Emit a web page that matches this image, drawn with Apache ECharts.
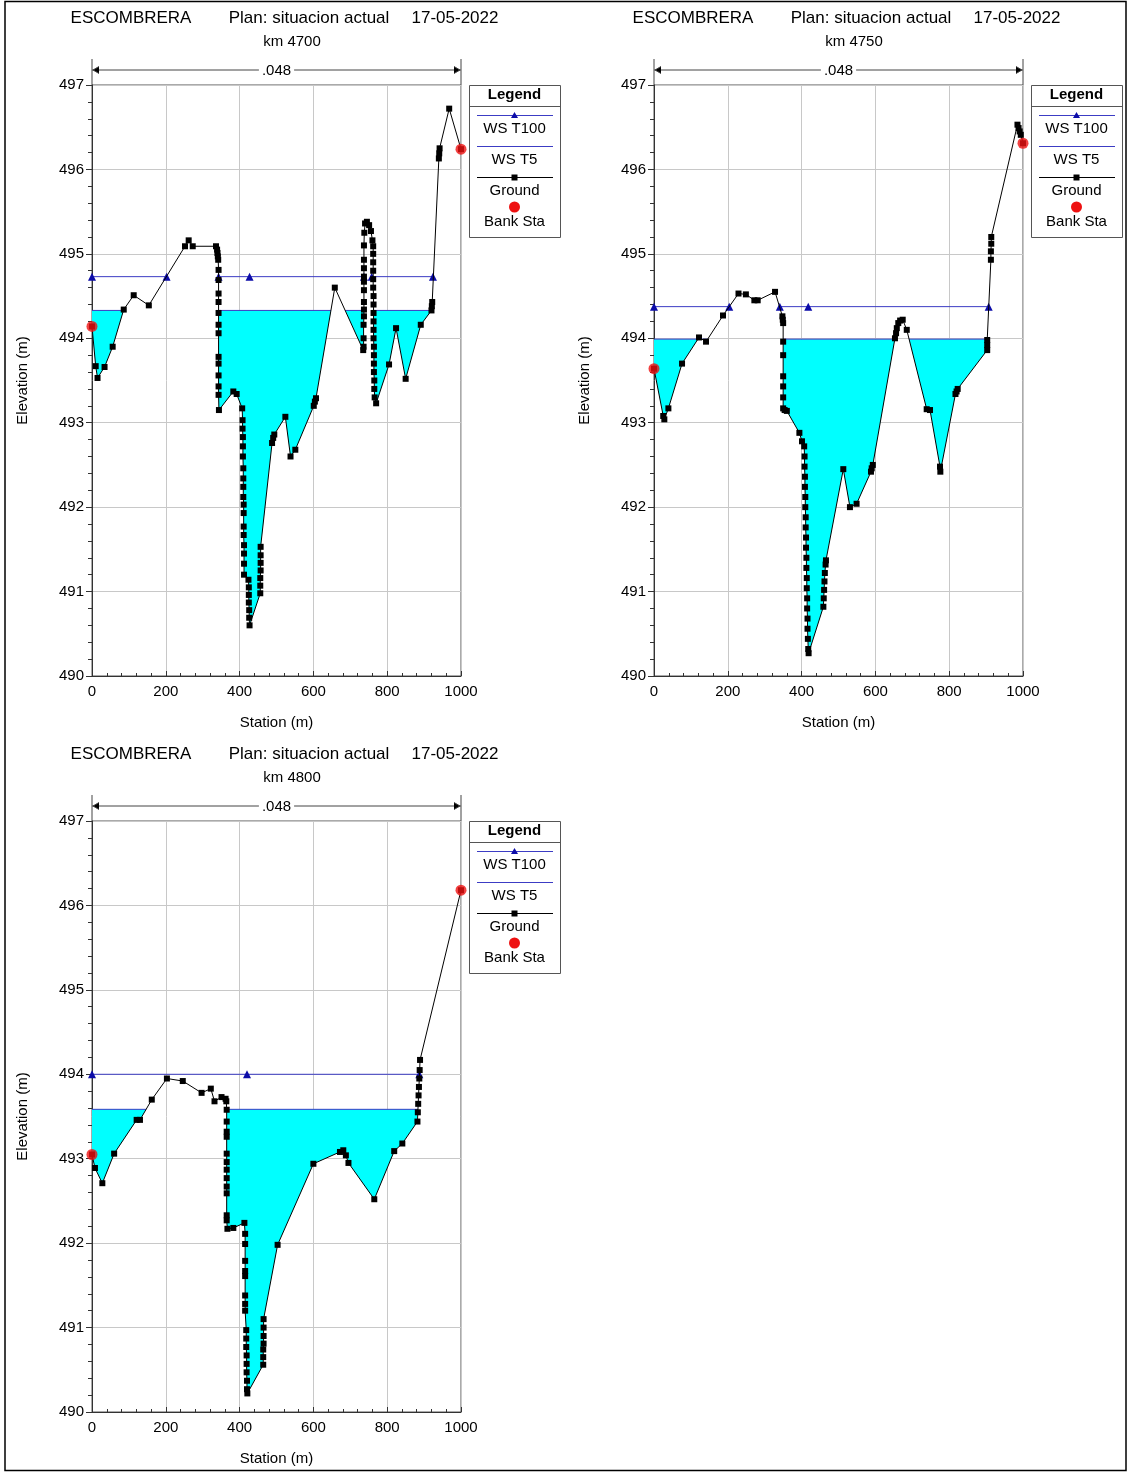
<!DOCTYPE html>
<html>
<head>
<meta charset="utf-8">
<title>ESCOMBRERA - cross sections</title>
<script src="https://cdn.jsdelivr.net/npm/echarts@6.0.0/dist/echarts.min.js"></script>
<style>
  html, body { margin: 0; padding: 0; background: #fff; }
  #chart { width: 1129px; height: 1473px; }
</style>
</head>
<body>
<div id="chart"></div>
<script>
// ---------------- Cross-section data ----------------
// Ground surveys: [station (m), elevation (m)]
const ground4700 = [
  [0, 494.14], [10, 493.67], [15, 493.53], [34, 493.66], [56, 493.90], [86, 494.34], [113, 494.51], [154, 494.39],
  [252, 495.09], [262, 495.16], [273, 495.09], [336, 495.09], [339, 495.05], [340, 495.01], [341, 494.97], [342, 494.93],
  [343, 494.81], [343, 494.69], [343, 494.53], [343, 494.43], [343, 494.30], [343, 494.16], [343, 494.06], [343, 493.78],
  [343, 493.70], [343, 493.56], [343, 493.43], [343, 493.33], [344, 493.15],
  [383, 493.37], [392, 493.34],
  [407, 493.17], [408, 493.03], [408, 492.93], [409, 492.83], [409, 492.72], [409, 492.60], [410, 492.46], [410, 492.34],
  [410, 492.24], [410, 492.12], [411, 492.03], [411, 491.93], [411, 491.77], [411, 491.67], [412, 491.55], [412, 491.45],
  [412, 491.33], [412, 491.20],
  [424, 491.14], [425, 491.05], [425, 490.96], [425, 490.87], [426, 490.78], [426, 490.69], [427, 490.60],
  [456, 490.98], [456, 491.07], [456, 491.16], [457, 491.25], [457, 491.34], [457, 491.43], [457, 491.53],
  [488, 492.76], [491, 492.82], [494, 492.86],
  [524, 493.07], [538, 492.60], [551, 492.68],
  [601, 493.20], [604, 493.25], [607, 493.29],
  [658, 494.60],
  [735, 493.86], [736, 493.90], [736, 494.00], [736, 494.16], [737, 494.26], [737, 494.34], [737, 494.43], [737, 494.57],
  [737, 494.67], [737, 494.73], [737, 494.83], [737, 494.93], [737, 495.10], [738, 495.25], [740, 495.36], [745, 495.38],
  [751, 495.34], [756, 495.27], [760, 495.16],
  [762, 495.09], [762, 495.00], [762, 494.90], [762, 494.80], [762, 494.70], [762, 494.60], [763, 494.50], [763, 494.40],
  [763, 494.30], [763, 494.20], [763, 494.10], [763, 494.00], [764, 493.90], [764, 493.80], [764, 493.70], [764, 493.60],
  [765, 493.50], [765, 493.40], [766, 493.30], [770, 493.23],
  [805, 493.69], [824, 494.12], [850, 493.52], [891, 494.16], [920, 494.33], [921, 494.38], [922, 494.43],
  [940, 496.13], [941, 496.19], [942, 496.25], [968, 496.72], [1000, 496.24]
];

const ground4750 = [
  [0, 493.64], [25, 493.08], [28, 493.04], [39, 493.17], [76, 493.70], [122, 494.01], [141, 493.96], [187, 494.27],
  [229, 494.53], [249, 494.52], [272, 494.45], [281, 494.45], [328, 494.55],
  [348, 494.26], [349, 494.22], [350, 494.18], [350, 493.96], [350, 493.80], [350, 493.55], [350, 493.43], [350, 493.30],
  [350, 493.17], [354, 493.15], [360, 493.14],
  [394, 492.88], [401, 492.78],
  [407, 492.72], [408, 492.60], [408, 492.48], [409, 492.36], [409, 492.24], [410, 492.12], [410, 492.00], [411, 491.88],
  [411, 491.76], [412, 491.64], [412, 491.52], [413, 491.40], [413, 491.28], [414, 491.16], [414, 491.04], [415, 490.92],
  [415, 490.80], [416, 490.68], [416, 490.56], [417, 490.44], [418, 490.32], [419, 490.27],
  [459, 490.82], [460, 490.92], [461, 491.02], [462, 491.12], [463, 491.22], [465, 491.32], [466, 491.37],
  [513, 492.45], [531, 492.00], [549, 492.04],
  [588, 492.42], [590, 492.46], [593, 492.50],
  [653, 494.00], [656, 494.06], [658, 494.12], [662, 494.18], [667, 494.21], [674, 494.22], [685, 494.10],
  [739, 493.16], [748, 493.15],
  [775, 492.48], [776, 492.42],
  [817, 493.34], [820, 493.37], [823, 493.40],
  [903, 493.86], [903, 493.92], [903, 493.98],
  [913, 494.93], [913, 495.03], [914, 495.12], [914, 495.20],
  [985, 496.53], [988, 496.49], [991, 496.45], [994, 496.41], [1000, 496.31]
];

const ground4800 = [
  [0, 493.05], [8, 492.89], [28, 492.71], [60, 493.06], [121, 493.46], [130, 493.46], [162, 493.70], [203, 493.95],
  [246, 493.92], [297, 493.78], [322, 493.83], [332, 493.68], [351, 493.73], [362, 493.71], [364, 493.68],
  [365, 493.58], [365, 493.44], [365, 493.32], [365, 493.26], [365, 493.06], [365, 492.96], [365, 492.87], [365, 492.77],
  [365, 492.67], [365, 492.59], [365, 492.33], [365, 492.27],
  [367, 492.17], [383, 492.18], [413, 492.24],
  [415, 492.11], [415, 491.99], [415, 491.79], [415, 491.67], [415, 491.61], [415, 491.38], [415, 491.28], [415, 491.20],
  [418, 490.97], [418, 490.87], [418, 490.77], [419, 490.67], [419, 490.57], [419, 490.47], [420, 490.37], [420, 490.27],
  [421, 490.22],
  [464, 490.56], [464, 490.65], [464, 490.74], [465, 490.81], [465, 490.90], [465, 491.00], [465, 491.10],
  [503, 491.98], [600, 492.94],
  [672, 493.08], [681, 493.10], [688, 493.04], [695, 492.95],
  [765, 492.52], [819, 493.09], [841, 493.18],
  [882, 493.44], [883, 493.55], [884, 493.65], [885, 493.75], [886, 493.85], [887, 493.95], [888, 494.05], [889, 494.17],
  [1000, 496.18]
];

// Bank stations
const bank4700 = [[0, 494.14], [1000, 496.24]];
const bank4750 = [[0, 493.64], [1000, 496.31]];
const bank4800 = [[0, 493.05], [1000, 496.18]];

// Water surface elevations (m) per section: 100-year and 5-year events
const sectionNames = ['km 4700', 'km 4750', 'km 4800'];
const wsT100 = [494.73, 494.375, 494.00];
const wsT5 = [494.33, 493.99, 493.585];

// Stations of the WS T100 marks, grouped by continuous wetted reach
const t100Marks4700 = [[0, 202], [343, 427, 737], [758, 924]];
const t100Marks4750 = [[0, 204], [341, 418, 907]];
const t100Marks4800 = [[0, 420, 887]];

// Manning's n reach across the section
const nStations = [0, 1000];
const nValue = '.048';

// Axis ticks
const stationTicks = [0, 200, 400, 600, 800, 1000];
const elevationTicks = [490, 491, 492, 493, 494, 495, 496, 497];

const planTitle = ['ESCOMBRERA', 'Plan: situacion actual', '17-05-2022'];

// ---------------- Helpers ----------------
const grounds = [ground4700, ground4750, ground4800];
const banks = [bank4700, bank4750, bank4800];
const t100Marks = [t100Marks4700, t100Marks4750, t100Marks4800];

// Wetted polygons: parts of the section below a water level, closed along the surface
function wetPolygons(ground, ws) {
  const polys = [];
  let cur = null;
  for (let i = 0; i < ground.length; i++) {
    const x = ground[i][0], y = ground[i][1];
    if (i > 0) {
      const px = ground[i - 1][0], py = ground[i - 1][1];
      if ((py < ws) !== (y < ws) && py !== y) {
        const t = (ws - py) / (y - py);
        const cx = px + t * (x - px);
        if (cur) { cur.push([cx, ws]); polys.push(cur); cur = null; }
        else { cur = [[cx, ws]]; }
      }
    }
    if (y < ws) {
      if (!cur) cur = [[x, ws]];
      cur.push([x, y]);
    }
  }
  if (cur) { cur.push([cur[cur.length - 1][0], ws]); polys.push(cur); }
  return polys;
}

// Line data with breaks between reaches
function reachLine(reaches, ws) {
  const out = [];
  reaches.forEach((r, k) => {
    if (k > 0) out.push([(reaches[k - 1][reaches[k - 1].length - 1] + r[0]) / 2, '-']);
    r.forEach(s => out.push([s, ws]));
  });
  return out;
}

// ---------------- Styling / layout ----------------
const FONT = '"Liberation Sans", Arial, Helvetica, sans-serif';
const WATER = '#00ffff';
const WS_LINE = '#3c3cc4';
const WS_MARK = '#0c0ca8';
const BANK = '#ee1111';
const PW = 369, PH = 591;
const panels = [
  { left: 92, top: 85 },
  { left: 654, top: 85 },
  { left: 92, top: 821 }
];

const grid = [], xAxis = [], yAxis = [], series = [], graphics = [];

panels.forEach((p, i) => {
  grid.push({
    left: p.left, top: p.top, width: PW, height: PH,
    show: true, borderColor: '#555', borderWidth: 1, backgroundColor: 'transparent',
    containLabel: false, outerBoundsMode: 'none'
  });
  xAxis.push({
    gridIndex: i, type: 'value',
    min: stationTicks[0], max: stationTicks[stationTicks.length - 1],
    interval: stationTicks[1] - stationTicks[0],
    name: 'Station (m)', nameLocation: 'middle', nameGap: 39,
    nameTextStyle: { fontSize: 15, color: '#000', fontFamily: FONT },
    axisLine: { show: true, onZero: false, lineStyle: { color: '#333', width: 1 } },
    axisTick: { show: true, inside: true, length: 5, lineStyle: { color: '#333' } },
    minorTick: { show: true, splitNumber: 5, length: 3, lineStyle: { color: '#333' } },
    axisLabel: { fontSize: 15, color: '#000', fontFamily: FONT, margin: 8, formatter: v => String(v) },
    splitLine: { show: true, lineStyle: { color: '#c8c8c8', width: 1 } },
    minorSplitLine: { show: false }
  });
  yAxis.push({
    gridIndex: i, type: 'value',
    min: elevationTicks[0], max: elevationTicks[elevationTicks.length - 1], interval: 1,
    name: 'Elevation (m)', nameLocation: 'middle', nameGap: 62, nameRotate: 90,
    nameTextStyle: { fontSize: 15, color: '#000', fontFamily: FONT },
    axisLine: { show: true, onZero: false, lineStyle: { color: '#333', width: 1 } },
    axisTick: { show: true, inside: false, length: 6, lineStyle: { color: '#333' } },
    minorTick: { show: true, splitNumber: 5, length: 4, lineStyle: { color: '#333' } },
    axisLabel: { fontSize: 15, color: '#000', fontFamily: FONT, margin: 8, formatter: v => String(v) },
    splitLine: { show: true, lineStyle: { color: '#c8c8c8', width: 1 } }
  });

  const g = grounds[i];
  const polys = wetPolygons(g, wsT5[i]);

  // Wetted area for the 5-year event
  series.push({
    name: 'WS T5 area', type: 'custom', xAxisIndex: i, yAxisIndex: i, z: 1,
    silent: true, clip: true,
    data: polys.map((poly, k) => [poly[0][0], wsT5[i], k]),
    renderItem: (params, api) => {
      const poly = polys[api.value(2)];
      return {
        type: 'polygon',
        shape: { points: poly.map(pt => api.coord(pt)) },
        style: { fill: WATER, stroke: null }
      };
    }
  });

  // WS T5 surface over each wetted reach
  const t5Line = [];
  polys.forEach((poly, k) => {
    if (k > 0) t5Line.push([(polys[k - 1][polys[k - 1].length - 1][0] + poly[0][0]) / 2, '-']);
    t5Line.push([poly[0][0], wsT5[i]]);
    t5Line.push([poly[poly.length - 1][0], wsT5[i]]);
  });
  series.push({
    name: 'WS T5', type: 'line', xAxisIndex: i, yAxisIndex: i, z: 2,
    data: t5Line, showSymbol: false, connectNulls: false, silent: true,
    lineStyle: { color: WS_LINE, width: 1 }, animation: false
  });

  // WS T100 surface with its marks
  series.push({
    name: 'WS T100', type: 'line', xAxisIndex: i, yAxisIndex: i, z: 3,
    data: reachLine(t100Marks[i], wsT100[i]), connectNulls: false, silent: true,
    symbol: 'triangle', symbolSize: 8, showSymbol: true, showAllSymbol: true,
    itemStyle: { color: WS_MARK },
    lineStyle: { color: WS_LINE, width: 1 }
  });

  // Ground
  series.push({
    name: 'Ground', type: 'line', xAxisIndex: i, yAxisIndex: i, z: 4,
    data: g, symbol: 'rect', symbolSize: 6, showSymbol: true, showAllSymbol: true, silent: true,
    itemStyle: { color: '#000' },
    lineStyle: { color: '#000', width: 1 }
  });

  // Bank stations
  series.push({
    name: 'Bank Sta', type: 'scatter', xAxisIndex: i, yAxisIndex: i, z: 5,
    data: banks[i], symbol: 'circle', symbolSize: 11, silent: true,
    itemStyle: { color: BANK }
  });

  // Manning's n reach annotation above the plot
  series.push({
    name: 'n value', type: 'custom', xAxisIndex: i, yAxisIndex: i, z: 6,
    silent: true, clip: false,
    data: [[nStations[0], elevationTicks[elevationTicks.length - 1], nStations[1]]],
    renderItem: (params, api) => {
      const a = api.coord([api.value(0), api.value(1)]);
      const b = api.coord([api.value(2), api.value(1)]);
      const top = a[1];
      const ay = top - 15;
      const s = { stroke: '#444', lineWidth: 1 };
      return {
        type: 'group',
        children: [
          { type: 'line', shape: { x1: a[0], y1: top - 26, x2: a[0], y2: top }, style: s },
          { type: 'line', shape: { x1: b[0], y1: top - 26, x2: b[0], y2: top }, style: s },
          { type: 'line', shape: { x1: a[0], y1: ay, x2: b[0], y2: ay }, style: s },
          { type: 'polyline', shape: { points: [[a[0] + 7, ay - 3.5], [a[0] + 1, ay], [a[0] + 7, ay + 3.5]] }, style: s },
          { type: 'polyline', shape: { points: [[b[0] - 7, ay - 3.5], [b[0] - 1, ay], [b[0] - 7, ay + 3.5]] }, style: s },
          {
            type: 'text',
            style: {
              text: nValue, x: (a[0] + b[0]) / 2, y: ay + 1, align: 'center', verticalAlign: 'middle',
              font: '15px ' + FONT, fill: '#000', backgroundColor: '#fff', padding: [0, 3]
            }
          }
        ]
      };
    }
  });

  // Titles
  const tStyle = (text, x, y, size) => ({
    type: 'text', silent: true,
    style: { text, x, y, align: 'center', verticalAlign: 'middle', font: size + 'px ' + FONT, fill: '#000' }
  });
  graphics.push(tStyle(planTitle[0], p.left + 39, p.top - 67, 17));
  graphics.push(tStyle(planTitle[1], p.left + 217, p.top - 67, 17));
  graphics.push(tStyle(planTitle[2], p.left + 363, p.top - 67, 17));
  graphics.push(tStyle(sectionNames[i], p.left + 200, p.top - 43, 15));

  // Legend box
  const lx = p.left + PW + 8, ly = p.top, lw = 91, cx = lx + lw / 2;
  const txt = (text, y, bold) => ({
    type: 'text', silent: true,
    style: { text, x: cx, y, align: 'center', verticalAlign: 'middle', font: (bold ? 'bold ' : '') + '15px ' + FONT, fill: '#000' }
  });
  const ln = (y, color) => ({
    type: 'line', silent: true,
    shape: { x1: lx + 8, y1: y, x2: lx + lw - 7, y2: y }, style: { stroke: color, lineWidth: 1 }
  });
  graphics.push(
    { type: 'rect', silent: true, shape: { x: lx + 0.5, y: ly + 0.5, width: lw, height: 152 }, style: { fill: '#fff', stroke: '#555', lineWidth: 1 } },
    txt('Legend', ly + 10, true),
    { type: 'line', silent: true, shape: { x1: lx, y1: ly + 21.5, x2: lx + lw, y2: ly + 21.5 }, style: { stroke: '#555', lineWidth: 1 } },
    ln(ly + 30.5, WS_LINE),
    { type: 'polygon', silent: true, shape: { points: [[cx, ly + 27], [cx - 3.5, ly + 33], [cx + 3.5, ly + 33]] }, style: { fill: WS_MARK } },
    txt('WS T100', ly + 44),
    ln(ly + 61.5, WS_LINE),
    txt('WS T5', ly + 75),
    ln(ly + 92.5, '#000'),
    { type: 'rect', silent: true, shape: { x: cx - 3, y: ly + 89.5, width: 6, height: 6 }, style: { fill: '#000' } },
    txt('Ground', ly + 105.5),
    { type: 'circle', silent: true, shape: { cx: cx, cy: ly + 122, r: 5.5 }, style: { fill: BANK } },
    txt('Bank Sta', ly + 136.5)
  );
});

// Outer frame
graphics.push({
  type: 'rect', silent: true, z: 100,
  shape: { x: 5, y: 1.5, width: 1121, height: 1469 },
  style: { fill: null, stroke: '#000', lineWidth: 1.5 }
});

const chart = echarts.init(document.getElementById('chart'), null, { renderer: 'canvas', width: 1129, height: 1473 });
chart.setOption({
  animation: false,
  backgroundColor: '#fff',
  textStyle: { fontFamily: FONT },
  grid, xAxis, yAxis, series,
  graphic: { elements: graphics }
});
</script>
</body>
</html>
